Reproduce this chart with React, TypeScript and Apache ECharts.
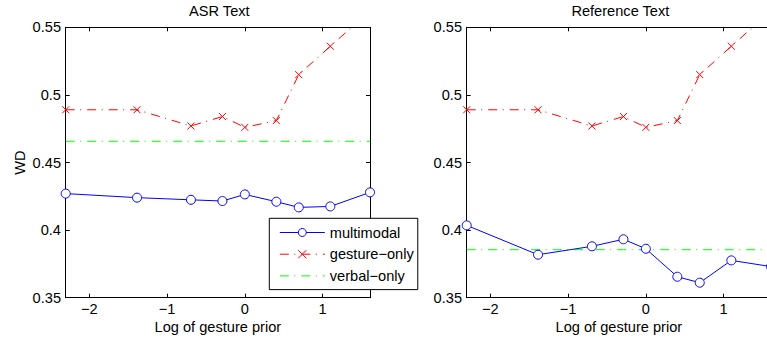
import React, { useEffect, useRef } from 'react';
import * as echarts from 'echarts';

// x positions: log of gesture prior (priors 0.1, 0.25, 0.5, 0.75, 1, 1.5, 2, 3, 5)
const logPrior = [-2.303, -1.386, -0.693, -0.288, 0, 0.405, 0.693, 1.099, 1.609];
const xTicks = [-2, -1, 0, 1];

const asrMultimodal = [0.427, 0.424, 0.4224, 0.4215, 0.4264, 0.421, 0.4168, 0.4175, 0.4279];
const asrGestureOnly = [0.489, 0.489, 0.477, 0.484, 0.476, 0.481, 0.515, 0.536, 0.562];
const asrVerbalOnly = 0.4657;

const refMultimodal = [0.4035, 0.3818, 0.388, 0.3932, 0.3862, 0.3655, 0.3611, 0.3776, 0.373];
const refGestureOnly = [0.489, 0.489, 0.477, 0.484, 0.476, 0.481, 0.515, 0.536, 0.562];
const refVerbalOnly = 0.3855;

const yMin = 0.35;
const yMax = 0.55;
const yStep = 0.05;

const seriesNames = ['multimodal', 'gesture\u2212only', 'verbal\u2212only'];
const panelTitles = ['ASR Text', 'Reference Text'];
const xAxisTitle = 'Log of gesture prior';
const yAxisTitle = 'WD';

const FONT = '"Liberation Sans", Arial, Helvetica, sans-serif';
const FS = 14.6;
const BLUE = '#0000ff';
const RED = '#ff0000';
const GREEN = '#00ff00';
const DASHDOT = [9, 5.5, 1, 6];

const panels = [
  { title: panelTitles[0], multi: asrMultimodal, gesture: asrGestureOnly, verbal: asrVerbalOnly },
  { title: panelTitles[1], multi: refMultimodal, gesture: refGestureOnly, verbal: refVerbalOnly },
];

const gridBoxes = [
  { left: 65.7, top: 27.3, width: 304.3, height: 270.4 },
  { left: 466.7, top: 27.3, width: 304.3, height: 270.4 },
];

const fmtMinus = (v: number) => String(v).replace('-', '\u2212');

export default function App() {
  const ref = useRef<HTMLDivElement>(null);

  useEffect(() => {
    if (!ref.current) return;
    const chart = echarts.init(ref.current, undefined, { renderer: 'svg' });
    const xMin = logPrior[0];
    const xMax = logPrior[logPrior.length - 1];

    const grids: any[] = [];
    const xAxes: any[] = [];
    const yAxes: any[] = [];
    const series: any[] = [];
    const graphics: any[] = [];

    panels.forEach((p, i) => {
      const g = gridBoxes[i];
      grids.push({ ...g, containLabel: false, outerBoundsMode: 'none', show: false });
      const axisLine = { show: true, onZero: false, lineStyle: { color: '#000', width: 1 } };
      const tick = { show: true, inside: true, length: 4, lineStyle: { color: '#000', width: 1 } };
      xAxes.push({
        type: 'value', gridIndex: i, position: 'bottom', min: xMin, max: xMax,
        axisLine, axisTick: { ...tick, customValues: xTicks },
        axisLabel: { show: true, customValues: xTicks, margin: 4, fontSize: FS, fontFamily: FONT, color: '#000', formatter: fmtMinus },
        splitLine: { show: false },
        name: xAxisTitle, nameLocation: 'middle', nameGap: 22, nameMoveOverlap: false,
        nameTextStyle: { fontSize: FS, fontFamily: FONT, color: '#000' },
      });
      xAxes.push({
        type: 'value', gridIndex: i, position: 'top', min: xMin, max: xMax,
        axisLine, axisTick: { ...tick, customValues: xTicks },
        axisLabel: { show: false }, splitLine: { show: false },
      });
      yAxes.push({
        type: 'value', gridIndex: i, position: 'left', min: yMin, max: yMax, interval: yStep,
        axisLine, axisTick: tick,
        axisLabel: { show: true, margin: 4.7, fontSize: FS, fontFamily: FONT, color: '#000' },
        splitLine: { show: false },
        ...(i === 0
          ? { name: yAxisTitle, nameLocation: 'middle', nameGap: 38.4, nameMoveOverlap: false,
              nameTextStyle: { fontSize: FS, fontFamily: FONT, color: '#000' } }
          : {}),
      });
      yAxes.push({
        type: 'value', gridIndex: i, position: 'right', min: yMin, max: yMax, interval: yStep,
        axisLine, axisTick: tick, axisLabel: { show: false }, splitLine: { show: false },
      });

      series.push({
        name: seriesNames[0], type: 'line', xAxisIndex: 2 * i, yAxisIndex: 2 * i,
        data: logPrior.map((x, k) => [x, p.multi[k]]),
        symbol: 'circle', symbolSize: 9, showSymbol: true,
        itemStyle: { color: '#fff', borderColor: BLUE, borderWidth: 1 },
        lineStyle: { color: BLUE, width: 1 }, z: 4, clip: true,
      });
      series.push({
        name: seriesNames[1], type: 'line', xAxisIndex: 2 * i, yAxisIndex: 2 * i,
        data: logPrior.map((x, k) => [x, p.gesture[k]]),
        symbol: 'path://M0,0L10,10M10,0L0,10', symbolSize: 7, showSymbol: true,
        itemStyle: { color: RED, borderColor: RED, borderWidth: 1 },
        lineStyle: { color: RED, width: 1, type: DASHDOT }, z: 3, clip: true,
      });
      series.push({
        name: seriesNames[2], type: 'line', xAxisIndex: 2 * i, yAxisIndex: 2 * i,
        data: logPrior.map((x) => [x, p.verbal]),
        symbol: 'circle', showSymbol: false,
        itemStyle: { color: GREEN },
        lineStyle: { color: GREEN, width: 1, type: DASHDOT }, z: 2, clip: true,
      });

      graphics.push({
        type: 'text',
        x: g.left + g.width / 2 + 1.5,
        y: 10.9,
        style: {
          text: p.title, fontSize: FS, fontFamily: FONT, fill: '#000',
          textAlign: 'center', textVerticalAlign: 'middle',
        },
      });
    });

    chart.setOption({
      animation: false,
      backgroundColor: '#fff',
      grid: grids,
      xAxis: xAxes,
      yAxis: yAxes,
      series,
      graphic: graphics,
      legend: {
        data: [
          { name: seriesNames[0] },
          { name: seriesNames[1] },
          { name: seriesNames[2], itemStyle: { opacity: 0 } },
        ],
        orient: 'vertical',
        left: 269.3,
        top: 218.3,
        padding: [6.7, 4, 6.2, 10],
        itemGap: 6.7,
        itemWidth: 45,
        itemHeight: 10,
        backgroundColor: '#fff',
        borderColor: '#000',
        borderWidth: 1,
        borderRadius: 0,
        selectedMode: false,
        itemStyle: { borderWidth: 1 },
        lineStyle: { width: 1 },
        textStyle: { fontSize: FS, fontFamily: FONT, color: '#000', lineHeight: 14 },
        z: 10,
      },
    });

    return () => chart.dispose();
  }, []);

  return (
    <div
      ref={ref}
      style={{ position: 'fixed', left: 0, top: 0, width: 767, height: 341, background: '#fff' }}
    />
  );
}
